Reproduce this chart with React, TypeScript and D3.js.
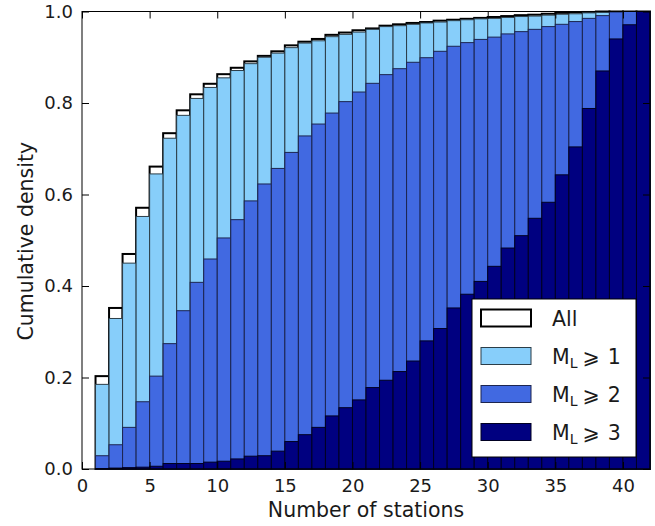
import React, { useRef, useEffect } from 'react';
import * as d3 from 'd3';

// left edges of the bins (each one station wide)
const binStarts = d3.range(1, 42);

// cumulative density per bin
const allValues = [0.203, 0.352, 0.470, 0.571, 0.661, 0.734, 0.784, 0.819, 0.842, 0.863, 0.877, 0.891, 0.903, 0.913, 0.926, 0.934, 0.940, 0.949, 0.954, 0.959, 0.963, 0.969, 0.972, 0.975, 0.977, 0.980, 0.982, 0.984, 0.986, 0.988, 0.990, 0.992, 0.993, 0.995, 0.997, 0.998, 0.999, 1.0, 1.0, 1.0, 1.0];
const ml1Values = [0.185, 0.329, 0.450, 0.552, 0.645, 0.723, 0.773, 0.810, 0.834, 0.855, 0.871, 0.886, 0.900, 0.909, 0.921, 0.931, 0.936, 0.945, 0.950, 0.955, 0.961, 0.967, 0.969, 0.972, 0.975, 0.977, 0.980, 0.982, 0.984, 0.985, 0.987, 0.989, 0.990, 0.992, 0.994, 0.995, 0.997, 0.998, 1.0, 1.0, 1.0];
const ml2Values = [0.029, 0.053, 0.091, 0.147, 0.203, 0.274, 0.346, 0.408, 0.459, 0.505, 0.545, 0.586, 0.623, 0.657, 0.692, 0.728, 0.754, 0.778, 0.803, 0.824, 0.843, 0.862, 0.875, 0.889, 0.899, 0.913, 0.924, 0.932, 0.939, 0.944, 0.951, 0.956, 0.961, 0.967, 0.972, 0.978, 0.985, 0.991, 0.999, 1.0, 1.0];
const ml3Values = [0.001, 0.002, 0.003, 0.004, 0.006, 0.012, 0.012, 0.012, 0.015, 0.017, 0.022, 0.028, 0.029, 0.039, 0.060, 0.075, 0.091, 0.116, 0.134, 0.151, 0.178, 0.194, 0.213, 0.236, 0.280, 0.307, 0.352, 0.382, 0.410, 0.443, 0.483, 0.510, 0.548, 0.583, 0.643, 0.704, 0.788, 0.870, 0.940, 0.971, 1.0];

const xTicks = [0, 5, 10, 15, 20, 25, 30, 35, 40];
const yTicks = [0, 0.2, 0.4, 0.6, 0.8, 1.0];

const series = [
  { key: 'all', label: 'All', values: allValues, fill: '#ffffff', stroke: '#000000', width: 2 },
  { key: 'ml1', label: '1', values: ml1Values, fill: '#87cefa', stroke: '#2b3d48', width: 1 },
  { key: 'ml2', label: '2', values: ml2Values, fill: '#4169e1', stroke: '#1c2550', width: 1 },
  { key: 'ml3', label: '3', values: ml3Values, fill: '#000080', stroke: '#000022', width: 1 },
];

const FONT = 'DejaVu Sans, sans-serif';

const App = () => {
  const ref = useRef<SVGSVGElement>(null);

  useEffect(() => {
    const svg = d3.select(ref.current);
    svg.selectAll('*').remove();

    const left = 82, right = 650, top = 11.5, bottom = 469;

    const x = d3.scaleLinear().domain([0, 42]).range([left, right]);
    const y = d3.scaleLinear().domain([0, 1]).range([bottom, top]);

    // histograms, drawn one over the other
    series.forEach(s => {
      svg.append('g')
        .selectAll('rect')
        .data(binStarts)
        .join('rect')
        .attr('x', (d) => x(d))
        .attr('width', (d) => x(d + 1) - x(d))
        .attr('y', (d, i) => y(s.values[i]))
        .attr('height', (d, i) => y(0) - y(s.values[i]))
        .attr('fill', s.fill)
        .attr('stroke', s.stroke)
        .attr('stroke-width', s.width);
    });

    // frame
    svg.append('rect')
      .attr('x', left).attr('y', top)
      .attr('width', right - left).attr('height', bottom - top)
      .attr('fill', 'none').attr('stroke', '#000').attr('stroke-width', 1);

    // ticks pointing inward on all four sides
    const tickLen = 7;
    const axisStyle = (g: any) => {
      g.select('.domain').remove();
      g.selectAll('line').attr('stroke', '#000');
      g.selectAll('text').attr('font-family', FONT).attr('font-size', 18).attr('fill', '#1a1a1a');
    };

    svg.append('g').attr('transform', `translate(0,${bottom})`)
      .call(d3.axisBottom(x).tickValues(xTicks).tickSizeInner(-tickLen).tickSizeOuter(0).tickPadding(10).tickFormat(d3.format('d')))
      .call(axisStyle);
    svg.append('g').attr('transform', `translate(0,${top})`)
      .call(d3.axisTop(x).tickValues(xTicks).tickSizeInner(-tickLen).tickSizeOuter(0).tickFormat(() => ''))
      .call(axisStyle);
    svg.append('g').attr('transform', `translate(${left},0)`)
      .call(d3.axisLeft(y).tickValues(yTicks).tickSizeInner(-tickLen).tickSizeOuter(0).tickPadding(9).tickFormat(d3.format('.1f')))
      .call(axisStyle);
    svg.append('g').attr('transform', `translate(${right},0)`)
      .call(d3.axisRight(y).tickValues(yTicks).tickSizeInner(-tickLen).tickSizeOuter(0).tickFormat(() => ''))
      .call(axisStyle);

    // axis labels
    svg.append('text')
      .attr('x', (left + right) / 2).attr('y', 517)
      .attr('text-anchor', 'middle')
      .attr('font-family', FONT).attr('font-size', 20.5).attr('fill', '#1a1a1a')
      .text('Number of stations');
    svg.append('text')
      .attr('transform', `translate(33,${(top + bottom) / 2 + 1}) rotate(-90)`)
      .attr('text-anchor', 'middle')
      .attr('font-family', FONT).attr('font-size', 20.5).attr('fill', '#1a1a1a')
      .text('Cumulative density');

    // legend
    const legend = svg.append('g');
    legend.append('rect')
      .attr('x', 472).attr('y', 299).attr('width', 164).attr('height', 158)
      .attr('fill', '#fff').attr('stroke', '#000').attr('stroke-width', 1);

    series.forEach((s, i) => {
      const cy = 318 + i * 38;
      legend.append('rect')
        .attr('x', 481).attr('y', cy - 8.5).attr('width', 50).attr('height', 17)
        .attr('fill', s.fill).attr('stroke', s.stroke).attr('stroke-width', s.width);
      const t = legend.append('text')
        .attr('x', 552).attr('y', cy + 7.5)
        .attr('font-family', FONT).attr('font-size', 20.5).attr('fill', '#1a1a1a');
      if (s.key === 'all') {
        t.text(s.label);
      } else {
        t.append('tspan').text('M');
        t.append('tspan').attr('font-size', 14).attr('dy', 4).text('L');
        t.append('tspan').attr('dy', -4).attr('dx', 5).text('\u2A7E');
        t.append('tspan').attr('dx', 8).text(s.label);
      }
    });
  }, []);

  return (
    <svg ref={ref} width={655} height={526}
      style={{ position: 'absolute', left: 0, top: 0, background: '#fff' }} />
  );
};

export default App;
